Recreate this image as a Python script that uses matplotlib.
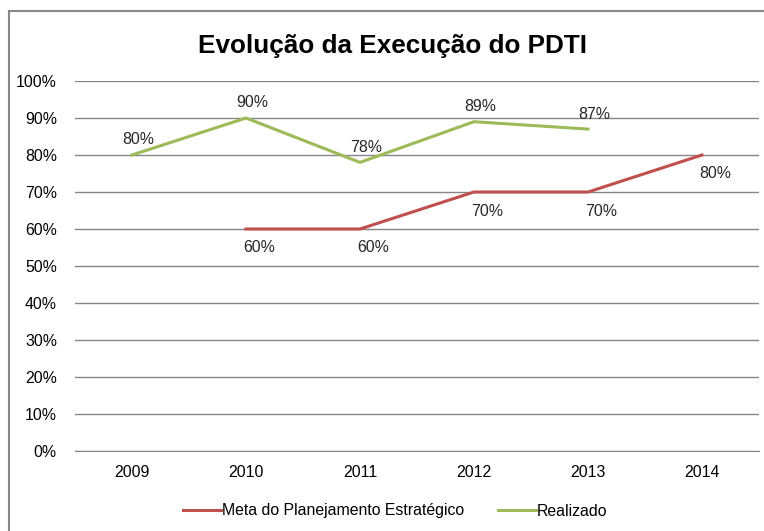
import matplotlib.pyplot as plt
from matplotlib.patches import Rectangle
import numpy as np

YEARS = ["2009", "2010", "2011", "2012", "2013", "2014"]
META = [np.nan, 0.60, 0.60, 0.70, 0.70, 0.80]
REALIZADO = [0.80, 0.90, 0.78, 0.89, 0.87, np.nan]
Y_TICKS = [0, 0.1, 0.2, 0.3, 0.4, 0.5, 0.6, 0.7, 0.8, 0.9, 1.0]

RED = "#C0504D"
GREEN = "#9BBB59"
GRID = "#868686"
FS = 11.4

plt.rcParams['font.family'] = ['Liberation Sans Narrow', 'Liberation Sans', 'DejaVu Sans']

fig = plt.figure(figsize=(7.64, 5.31), dpi=100)
# outer chart border (Excel chart area)
fig.patches.append(Rectangle((9 / 764, -0.1), 1.2, 1 - 11 / 531 + 0.1,
                             transform=fig.transFigure, fill=False,
                             edgecolor="#888888", lw=1.5))

ax = fig.add_axes([75 / 764, 1 - 451 / 531, 684 / 764, 370 / 531])
x = np.arange(len(YEARS))

ax.plot(x, META, color=RED, lw=2.2, label="Meta do Planejamento Estratégico")
ax.plot(x, REALIZADO, color=GREEN, lw=2.2, label="Realizado")

# data labels (green above, red below, both nudged right like Excel)
for xi, v in zip(x, META):
    if not np.isnan(v):
        ax.annotate(f"{v:.0%}", (xi, v), xytext=(13, -19), textcoords="offset pixels",
                    ha="center", va="center", fontsize=FS, color="#262626")
for xi, v in zip(x, REALIZADO):
    if not np.isnan(v):
        ax.annotate(f"{v:.0%}", (xi, v), xytext=(6, 15), textcoords="offset pixels",
                    ha="center", va="center", fontsize=FS, color="#262626")

ax.set_xlim(-0.5, len(YEARS) - 0.5)
ax.set_ylim(0, 1)
ax.set_yticks(Y_TICKS)
ax.set_yticklabels([f"{t:.0%}" for t in Y_TICKS], fontsize=FS)
ax.set_xticks(x)
ax.set_xticklabels(YEARS, fontsize=FS)
ax.tick_params(length=0, pad=13)
ax.tick_params(axis="x", pad=10)
ax.grid(axis="y", color=GRID, lw=1)
ax.set_axisbelow(True)
for s in ["left", "right", "top"]:
    ax.spines[s].set_visible(False)
ax.spines["bottom"].set_color(GRID)

fig.text(392 / 764, 1 - 46 / 531, "Evolução da Execução do PDTI", ha="center",
         va="center", fontsize=18.8, fontweight="bold")

fig.legend(loc="center", bbox_to_anchor=(395 / 764, 1 - 511 / 531), ncol=2,
           frameon=False, fontsize=FS, handlelength=2.4, handletextpad=0.05,
           columnspacing=2.15)

fig.savefig("out.png", dpi=100)
